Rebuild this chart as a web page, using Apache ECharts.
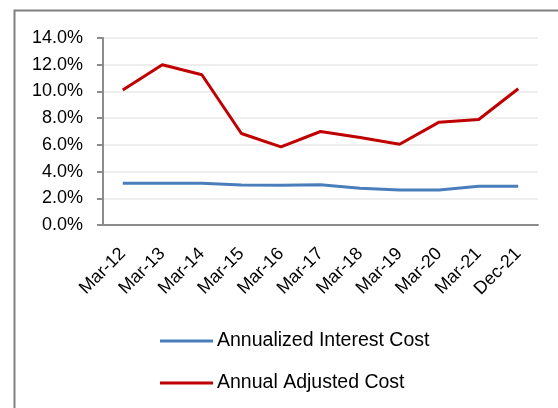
<!DOCTYPE html>
<html>
<head>
  <meta charset="UTF-8">
  <title></title>
  <script src="https://cdn.jsdelivr.net/npm/echarts@6/dist/echarts.min.js"></script>
  <style>
    * { margin: 0; padding: 0; }
    body { background: #fff; }
    #chart { width: 558px; height: 408px; }
  </style>
</head>
<body>
  <div id="chart"></div>
  <script>
    const categories = ['Mar-12', 'Mar-13', 'Mar-14', 'Mar-15', 'Mar-16', 'Mar-17', 'Mar-18', 'Mar-19', 'Mar-20', 'Mar-21', 'Dec-21']
    const interestCost = [3.12, 3.13, 3.12, 3.0, 2.98, 3.02, 2.75, 2.62, 2.62, 2.9, 2.9]
    const adjustedCost = [10.1, 12.0, 11.25, 6.85, 5.85, 7.0, 6.55, 6.05, 7.7, 7.9, 10.2]
    const yTicks = [0, 2, 4, 6, 8, 10, 12, 14]

    const font = 'Liberation Sans'
    const myChart = echarts.init(document.querySelector('#chart'))
    const option = {
      animation: false,
      graphic: [
        {
          type: 'rect',
          left: 12, top: 8,
          shape: { width: 700, height: 600 },
          style: { fill: 'none', stroke: '#808080', lineWidth: 2 }
        }
      ],
      grid: { left: 103, right: 20, top: 38, bottom: 183 },
      legend: {
        orient: 'vertical',
        left: 155,
        top: 326,
        itemGap: 22,
        itemWidth: 53,
        itemHeight: 3,
        icon: 'rect',
        textStyle: { fontFamily: font, fontSize: 19.5, color: '#000', padding: [0, 0, 0, -1] },
        data: ['Annualized Interest Cost', 'Annual Adjusted Cost']
      },
      xAxis: {
        type: 'category',
        data: categories,
        boundaryGap: true,
        axisLine: { lineStyle: { color: '#8c8c8c', width: 2 } },
        axisTick: { length: 6, lineStyle: { color: '#8c8c8c', width: 2 } },
        axisLabel: { rotate: 45, margin: 26, color: '#000', fontFamily: font, fontSize: 18, interval: 0 }
      },
      yAxis: {
        type: 'value',
        min: yTicks[0],
        max: yTicks[yTicks.length - 1],
        interval: 2,
        axisLine: { show: true, lineStyle: { color: '#8c8c8c', width: 2 } },
        axisTick: { show: true, length: 6, inside: false, lineStyle: { color: '#8c8c8c', width: 2 } },
        splitLine: { lineStyle: { color: '#eeeeee', width: 2 } },
        axisLabel: {
          margin: 20, color: '#000', fontFamily: font, fontSize: 18,
          formatter: v => v.toFixed(1) + '%'
        }
      },
      series: [
        {
          name: 'Annualized Interest Cost',
          type: 'line',
          data: interestCost,
          showSymbol: false,
          itemStyle: { color: '#4a7ebb' },
          lineStyle: { color: '#4a7ebb', width: 3 }
        },
        {
          name: 'Annual Adjusted Cost',
          type: 'line',
          data: adjustedCost,
          showSymbol: false,
          itemStyle: { color: '#c00000' },
          lineStyle: { color: '#c00000', width: 3 }
        }
      ]
    }
    myChart.setOption(option)
  </script>
</body>
</html>
